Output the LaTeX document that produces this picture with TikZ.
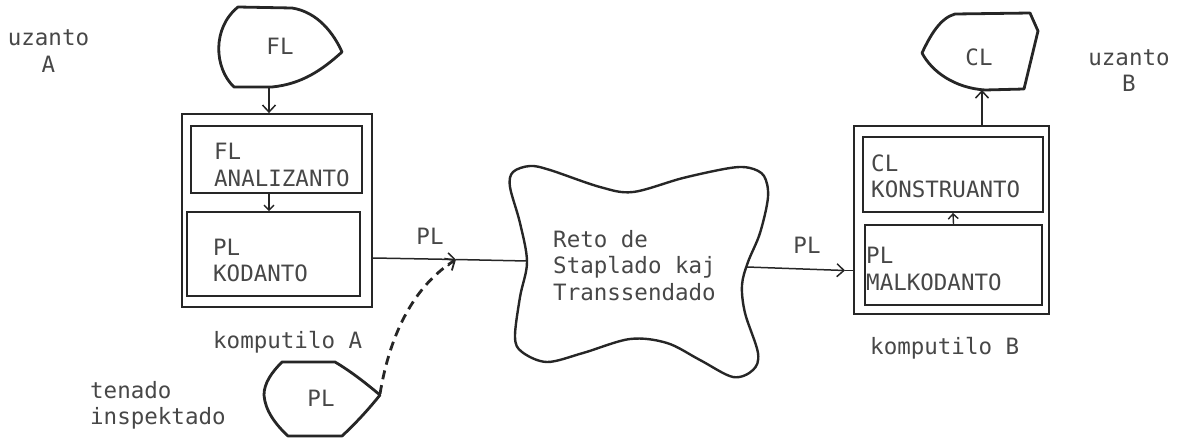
\documentclass[tikz,border=0pt]{standalone}
\usepackage{fontspec}
\newfontfamily\typewriter{DejaVu Sans Mono}
\usetikzlibrary{arrows.meta}
\definecolor{ink}{HTML}{262626}
\definecolor{typeink}{HTML}{474747}
\begin{document}
\begin{tikzpicture}[x=1pt,y=-1pt,
  every node/.style={font=\typewriter\fontsize{22.5}{26.5}\selectfont, text=typeink, inner sep=0pt},
  frame/.style={draw=ink, line width=1.8pt},
  blob/.style={draw=ink, line width=2.8pt, line join=round},
  conn/.style={draw=ink, line width=1.5pt, -{Straight Barb[length=7pt,width=13pt]}},
  plainconn/.style={draw=ink, line width=1.5pt},
  smallconn/.style={draw=ink, line width=1.4pt, -{Straight Barb[length=5pt,width=10pt]}},
  dashconn/.style={draw=ink, line width=2.8pt, dash pattern=on 9pt off 6pt, -{Straight Barb[length=8pt,width=14pt,line width=1.8pt]}}]
\useasboundingbox (0,0) rectangle (1180,439);

% ---- user A side -------------------------------------------------
\node[align=center] (userA) at (48.5,51) {uzanto\\A};

% FL display shape (source language input)
\draw[blob] (238,7) -- (292,8) .. controls (318,12) and (334,34) .. (342,52)
  .. controls (322,70) and (302,84) .. (272,87) -- (234,87)
  .. controls (214,68) and (212,28) .. (238,7) -- cycle;
\node (flIn) at (280,46) {FL};
\coordinate (flBot) at (269,87);

% computer A
\node[frame, minimum width=190pt, minimum height=193pt] (outerA) at (277,210.5) {};
\node[frame, minimum width=171pt, minimum height=67pt] (inA1) at (276.5,159.5) {};
\node[frame, minimum width=173pt, minimum height=84pt] (inA2) at (273.5,254) {};
\node[anchor=west, align=left] (tA1) at (214,165) {FL\\ANALIZANTO};
\node[anchor=west, align=left] (tA2) at (213,260.5) {PL\\KODANTO};
\node[anchor=west] (compA) at (213,342) {komputilo A};

% inspected PL storage
\draw[blob] (282,362) -- (335,362) .. controls (352,372) and (368,385) .. (380,395)
  .. controls (368,410) and (355,424) .. (342,436) -- (288,436)
  .. controls (275,424) and (265,410) .. (264,395)
  .. controls (264,383) and (272,372) .. (282,362) -- cycle;
\node (plStore) at (321,398) {PL};
\coordinate (plR) at (380,394);
\node[anchor=west, align=left] (inspect) at (90,405.5) {tenado\\inspektado};

% ---- network -----------------------------------------------------
\draw[blob, line width=2.4pt] plot[smooth cycle, tension=0.55] coordinates {
  (530,166) (550,170) (600,187) (633,192) (683,178) (730,168) (750,168)
  (764,176) (768,197) (760,233) (748,262) (742,285) (745,313) (758,353)
  (753,370) (733,377) (700,360) (667,343) (630,339) (583,353) (547,362)
  (522,352) (515,337) (520,297) (527,262) (520,223) (510,187) (513,172)};
\node[anchor=west, align=left] (net) at (553,265.5) {Reto de\\Staplado kaj\\Transsendado};
\coordinate (cW) at (527,261);
\coordinate (cE) at (747,267);

% ---- computer B --------------------------------------------------
\node[frame, minimum width=195pt, minimum height=188pt] (outerB) at (951.5,220) {};
\node[frame, minimum width=180pt, minimum height=75pt] (inB1) at (953,174.5) {};
\node[frame, minimum width=177pt, minimum height=80pt] (inB2) at (953.5,265) {};
\node[anchor=west, align=left] (tB1) at (871,176.5) {CL\\KONSTRUANTO};
\node[anchor=west, align=left] (tB2) at (866,269) {PL\\MALKODANTO};
\node[anchor=west] (compB) at (870,348) {komputilo B};

% CL display shape (target language output)
\draw[blob] (922,53) .. controls (930,36) and (940,18) .. (955,14) -- (1030,13)
  -- (1038,31) -- (1024,89) -- (985,90)
  .. controls (955,88) and (932,72) .. (922,53) -- cycle;
\node (clOut) at (979,57) {CL};
\coordinate (clBot) at (982,90);
\node[align=center] (userB) at (1129,70.5) {uzanto\\B};

% ---- labels on the links ----------------------------------------
\node (plA) at (430,236) {PL};
\node (plB) at (807,245) {PL};

% ---- connectors --------------------------------------------------
\coordinate (pA) at (456,259.5);
\coordinate (pB) at (845,270.5);
\draw[conn] (flBot) -- (flBot |- outerA.north);
\draw[smallconn] (inA1.south -| flBot) -- (inA2.north -| flBot);
\draw[conn] (outerA.east |- 0,258) -- (pA);
\draw[plainconn] (pA) -- (cW);
\draw[dashconn] (plR) .. controls (388,345) and (408,290) .. (pA);
\draw[conn] (cE) -- (pB);
\draw[plainconn] (pB) -- (outerB.west |- pB);
\draw[smallconn] (inB2.north) -- (inB1.south);
\draw[conn] (outerB.north -| clBot) -- (clBot);
\end{tikzpicture}
\end{document}
